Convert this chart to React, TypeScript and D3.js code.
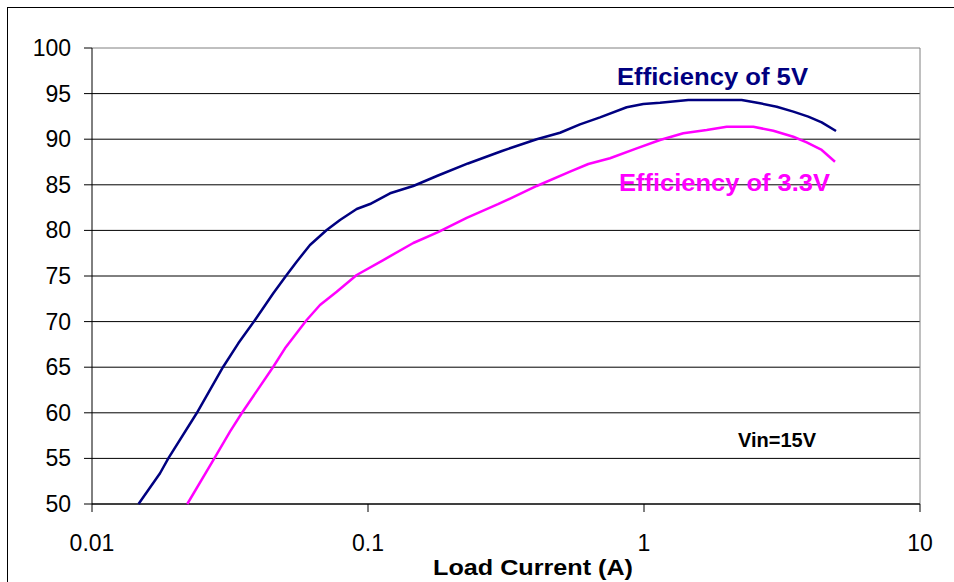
import React from "react";
import * as d3 from "d3";

const yTicks = [50, 55, 60, 65, 70, 75, 80, 85, 90, 95, 100];
const xTicks = [0.01, 0.1, 1, 10];
const xTickLabels = ["0.01", "0.1", "1", "10"];

const current5V = [0.01474, 0.01764, 0.0189, 0.02394, 0.02989, 0.03389, 0.03897, 0.04538, 0.05073, 0.05515, 0.06164, 0.07086, 0.07917, 0.091, 0.1017, 0.1202, 0.1459, 0.1794, 0.2303, 0.3058, 0.4086, 0.4963, 0.5862, 0.6928, 0.8656, 0.9943, 1.143, 1.447, 1.71, 2.259, 2.633, 3.026, 3.475, 3.938, 4.404, 4.963];
const eff5V = [50.0, 53.37, 55.01, 59.95, 65.05, 67.62, 70.18, 73.1, 75.11, 76.57, 78.4, 80.04, 81.14, 82.35, 82.89, 84.07, 84.87, 86.02, 87.34, 88.71, 89.99, 90.71, 91.63, 92.4, 93.5, 93.86, 93.99, 94.3, 94.3, 94.3, 93.94, 93.56, 93.02, 92.47, 91.85, 90.9];

const current33V = [0.02214, 0.02751, 0.03162, 0.03486, 0.04538, 0.05003, 0.05996, 0.067, 0.07702, 0.091, 0.1136, 0.1459, 0.1794, 0.2278, 0.2958, 0.4086, 0.5394, 0.6285, 0.7529, 0.941, 1.143, 1.388, 1.687, 1.993, 2.489, 2.941, 3.475, 3.886, 4.404, 4.92];
const eff33V = [50.0, 54.82, 57.93, 59.95, 65.05, 67.07, 70.18, 71.82, 73.28, 75.11, 76.75, 78.62, 79.8, 81.38, 82.87, 84.87, 86.44, 87.28, 87.91, 89.0, 89.91, 90.65, 91.01, 91.37, 91.37, 90.93, 90.27, 89.66, 88.82, 87.53];

const W = 954;
const H = 582;
const left = 92;
const right = 920;
const top = 48;
const bottom = 504;
const font = "Arial, 'Liberation Sans', sans-serif";

export default function App() {
  const x = d3.scaleLog().domain([0.01, 10]).range([left, right]);
  const y = d3.scaleLinear().domain([50, 100]).range([bottom, top]);
  const line = d3
    .line<[number, number]>()
    .x((d) => x(d[0]))
    .y((d) => y(d[1]));
  const d5 = line(current5V.map((c, i) => [c, eff5V[i]] as [number, number])) || "";
  const d33 = line(current33V.map((c, i) => [c, eff33V[i]] as [number, number])) || "";

  return (
    <svg
      width={W}
      height={H}
      style={{ position: "absolute", left: 0, top: 0, background: "#fff" }}
      fontFamily={font}
    >
      <rect x={0} y={0} width={W} height={H} fill="#fff" />
      <rect x={7.5} y={7.5} width={1200} height={1200} fill="none" stroke="#000" strokeWidth={1} />
      {/* gridlines */}
      {yTicks.map((t) => (
        <line key={"g" + t} x1={left} x2={right} y1={y(t)} y2={y(t)} stroke={t === 100 ? "#808080" : "#000"} strokeWidth={1} />
      ))}
      <line x1={right} x2={right} y1={top} y2={bottom} stroke="#808080" strokeWidth={1} />
      {/* axes */}
      <line x1={left} x2={left} y1={top} y2={bottom} stroke="#000" strokeWidth={1} />
      <line x1={left} x2={right} y1={bottom} y2={bottom} stroke="#000" strokeWidth={1} />
      {yTicks.map((t) => (
        <g key={"yt" + t}>
          <line x1={left - 8} x2={left} y1={y(t)} y2={y(t)} stroke="#000" />
          <text x={71} y={y(t) + 8} textAnchor="end" fontSize={23} fill="#000">
            {t}
          </text>
        </g>
      ))}
      {xTicks.map((t, i) => (
        <g key={"xt" + t}>
          <line x1={x(t)} x2={x(t)} y1={bottom} y2={bottom + 8} stroke="#000" />
          <text x={x(t)} y={551} textAnchor="middle" fontSize={23} fill="#000">
            {xTickLabels[i]}
          </text>
        </g>
      ))}
      <text x={433} y={575} fontSize={22} fontWeight="bold" fill="#000" textLength={200} lengthAdjust="spacingAndGlyphs">
        Load Current (A)
      </text>
      {/* series */}
      <path d={d5} fill="none" stroke="#000080" strokeWidth={2.5} strokeLinejoin="round" />
      <path d={d33} fill="none" stroke="#FF00FF" strokeWidth={2.5} strokeLinejoin="round" />
      {/* labels */}
      <text x={617} y={85} fontSize={24} fontWeight="bold" fill="#000080" textLength={191} lengthAdjust="spacingAndGlyphs">
        Efficiency of 5V
      </text>
      <text x={619} y={191} fontSize={24} fontWeight="bold" fill="#FF00FF" textLength={211} lengthAdjust="spacingAndGlyphs">
        Efficiency of 3.3V
      </text>
      <text x={816} y={447} textAnchor="end" fontSize={20} fontWeight="bold" fill="#000">
        Vin=15V
      </text>
    </svg>
  );
}
